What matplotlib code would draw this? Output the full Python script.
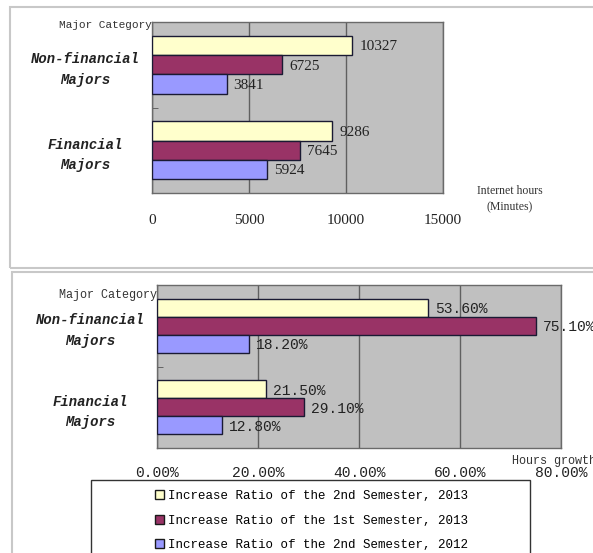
import matplotlib.pyplot as plt
from matplotlib.patches import Rectangle, Patch
import numpy as np

W, H = 593, 553

categories = ["Financial\nMajors", "Non-financial\nMajors"]
series_names = ["Increase Ratio of the 2nd Semester, 2013",
                "Increase Ratio of the 1st Semester, 2013",
                "Increase Ratio of the 2nd Semester, 2012"]
colors = ["#FFFFCC", "#993366", "#9999FF"]

# internet minutes, order: [financial, non-financial]
hours_2013_s2 = [9286, 10327]
hours_2013_s1 = [7645, 6725]
hours_2012_s2 = [5924, 3841]

# growth ratio in percent
growth_2013_s2 = [21.5, 53.6]
growth_2013_s1 = [29.1, 75.1]
growth_2012_s2 = [12.8, 18.2]

top_ticks = [0, 5000, 10000, 15000]
bottom_ticks = [0, 20, 40, 60, 80]

MONO = ["Liberation Mono", "DejaVu Sans Mono"]
SERIF = ["Liberation Serif", "DejaVu Serif"]


def box(l, t, r, b):
    return [l / W, 1 - b / H, (r - l) / W, (b - t) / H]


def draw_panel(ax, series, bar_h, fmt, lblfont, lblsize):
    y = np.arange(len(categories))
    offs = [bar_h, 0, -bar_h]
    for vals, c, o in zip(series, colors, offs):
        bars = ax.barh(y + o, vals, height=bar_h, color=c, edgecolor="#1a1a33",
                       linewidth=1, zorder=3)
        for b, v in zip(bars, vals):
            ax.annotate(fmt(v), (b.get_width(), b.get_y() + b.get_height() / 2),
                        xytext=(5, -1), textcoords="offset points", va="center",
                        ha="left", family=lblfont, fontsize=lblsize, color="#222222",
                        zorder=5, annotation_clip=False)
    ax.set_ylim(-0.5, 1.5)
    ax.set_facecolor("#C0C0C0")
    ax.grid(axis="x", color="#606060", linewidth=1, zorder=1)
    ax.set_axisbelow(True)
    for s in ax.spines.values():
        s.set_color("#6a6a6a")
        s.set_linewidth(1)
    ax.set_yticks(y)
    ax.set_yticklabels(categories, family=MONO, fontsize=10, style="italic",
                       weight="bold", ha="center", linespacing=1.6, color="#222222")
    ax.set_yticks([0.5], minor=True)
    ax.tick_params(axis="y", which="major", length=0, pad=48)
    ax.tick_params(axis="y", which="minor", direction="in", length=4, color="#555555")
    ax.tick_params(axis="x", length=0)


fig = plt.figure(figsize=(W / 100, H / 100), dpi=100)

# panel frames
fig.patches.append(Rectangle((10 / W, 1 - 268 / H), 600 / W, 261 / H,
                             transform=fig.transFigure, fill=False,
                             edgecolor="#c8c8c8", linewidth=1.5))
fig.patches.append(Rectangle((12 / W, 1 - 600 / H), 600 / W, 328 / H,
                             transform=fig.transFigure, fill=False,
                             edgecolor="#c8c8c8", linewidth=1.5))

# top panel
ax1 = fig.add_axes(box(152, 22, 443, 193))
draw_panel(ax1, [hours_2013_s2, hours_2013_s1, hours_2012_s2], 0.225,
           lambda v: f"{v}", SERIF, 11)
ax1.set_xlim(0, 15000)
ax1.set_xticks(top_ticks)
ax1.set_xticklabels([str(t) for t in top_ticks], family=SERIF, fontsize=11,
                    color="#222222")
ax1.tick_params(axis="x", pad=15)
ax1.text(0, 0.982, "Major Category", transform=ax1.transAxes, ha="right",
         va="center", family=MONO, fontsize=8, color="#333333")
fig.text(510 / W, 1 - 199 / H, "Internet hours\n(Minutes)", ha="center",
         va="center", family=SERIF, fontsize=8.5, color="#333333", linespacing=1.5)

# bottom panel
ax2 = fig.add_axes(box(157, 285, 561, 448))
draw_panel(ax2, [growth_2013_s2, growth_2013_s1, growth_2012_s2], 0.22,
           lambda v: f"{v:.2f}%", MONO, 10.5)
ax2.set_xlim(0, 80)
ax2.set_xticks(bottom_ticks)
ax2.set_xticklabels([f"{t:.2f}%" for t in bottom_ticks], family=MONO,
                    fontsize=10.5, color="#222222")
ax2.tick_params(axis="x", pad=13)
ax2.text(0, 0.94, "Major Category", transform=ax2.transAxes, ha="right",
         va="center", family=MONO, fontsize=8.5, color="#333333")
fig.text(512 / W, 1 - 461 / H, "Hours growth", ha="left", va="center",
         family=MONO, fontsize=8.5, color="#333333")

# legend
fig.patches.append(Rectangle((91 / W, 1 - 600 / H), 439 / W, 120 / H,
                             transform=fig.transFigure, fill=False,
                             edgecolor="#333333", linewidth=1))
handles = [Patch(facecolor=c, edgecolor="#1a1a1a", linewidth=1) for c in colors]
fig.legend(handles, series_names, loc="upper left",
           bbox_to_anchor=(155 / W, 1 - 490 / H), frameon=False,
           prop={"family": MONO, "size": 9}, handlelength=0.7, handleheight=0.7,
           handletextpad=0.3, labelspacing=1.0, borderaxespad=0, borderpad=0)

fig.savefig("out.png", dpi=100)
